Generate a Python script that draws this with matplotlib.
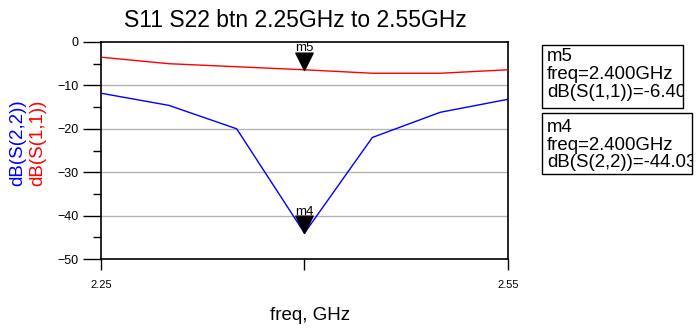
import matplotlib
matplotlib.use("Agg")
import matplotlib.pyplot as plt
from matplotlib.path import Path
from matplotlib.patches import Rectangle
import numpy as np

plt.rcParams['font.family'] = ['Liberation Sans', 'DejaVu Sans']

freq = [2.25, 2.30, 2.35, 2.40, 2.45, 2.50, 2.55]
s11_db = [-3.5, -5.0, -5.7, -6.40, -7.2, -7.2, -6.4]
s22_db = [-11.8, -14.6, -20.0, -44.03, -22.0, -16.2, -13.2]
marker_freq = 2.40
marker_names = ["m5", "m4"]
marker_vals = [-6.40, -44.03]
marker_texts = [["m5", "freq=2.400GHz", "dB(S(1,1))=-6.40"],
                ["m4", "freq=2.400GHz", "dB(S(2,2))=-44.03"]]
yticks_major = [0, -10, -20, -30, -40, -50]
xticks_major = [2.25, 2.40, 2.55]
xtick_labels = ["2.25", "", "2.55"]

W, H = 698, 328
fig = plt.figure(figsize=(W/100, H/100), dpi=100)
ax = fig.add_axes([101/W, 1-259/H, (508-101)/W, (259-42)/H])

ax.plot(freq, s11_db, color='#ff0000', lw=1.0, zorder=3)
ax.plot(freq, s22_db, color='#0000ff', lw=1.0, zorder=3)

ax.set_xlim(2.25, 2.55)
ax.set_ylim(-50, 0)
ax.set_yticks(yticks_major)
ax.set_yticks(np.arange(-45, 0, 10), minor=True)
ax.set_xticks(xticks_major)
ax.set_xticklabels(xtick_labels, fontsize=8)
ax.tick_params(axis='y', which='major', direction='out', length=13, width=1, labelsize=9, pad=3)
ax.tick_params(axis='y', which='minor', direction='out', length=6, width=1)
ax.tick_params(axis='x', which='major', direction='out', length=8, width=1, pad=7)
for g in [-10, -20, -30, -40]:
    ax.axhline(g, color='#b4b4b4', lw=1.0, zorder=1)
for s in ax.spines.values():
    s.set_linewidth(1.2)

# inverted triangle marker with tip at the data point
tri = Path([(-1, 2), (1, 2), (0, 0), (-1, 2)],
           [Path.MOVETO, Path.LINETO, Path.LINETO, Path.CLOSEPOLY])
for name, v in zip(marker_names, marker_vals):
    ax.plot([marker_freq], [v], marker=tri, markersize=25, color='black',
            linestyle='none', zorder=5, clip_on=False)
    ax.annotate(name, (marker_freq, v), xytext=(0, 11), textcoords='offset points',
                ha='center', va='bottom', fontsize=9.5, zorder=6)

fig.text(295/W, 1-27/H, "S11 S22 btn 2.25GHz to 2.55GHz", ha='center', va='baseline',
         fontsize=16.5)
fig.text(310/W, 1-320/H, "freq, GHz", ha='center', va='baseline', fontsize=13.5)
fig.text(18/W, 1-143/H, "dB(S(2,2))", rotation=90, ha='center', va='center',
         color='#0000ff', fontsize=13.5)
fig.text(38/W, 1-143/H, "dB(S(1,1))", rotation=90, ha='center', va='center',
         color='#ff0000', fontsize=13.5)

boxes = [(542, 45, 683, 108), (542, 113, 692, 174)]
baselines = [[61, 79, 97], [132, 150, 167]]
for (x0, y0, x1, y1), lines, bls in zip(boxes, marker_texts, baselines):
    rect = Rectangle((x0/W, 1-y1/H), (x1-x0)/W, (y1-y0)/H, transform=fig.transFigure,
                     fill=False, edgecolor='black', lw=1.0)
    fig.add_artist(rect)
    clip = Rectangle((x0/W, 1-y1/H), (x1-x0)/W, (y1-y0)/H, transform=fig.transFigure,
                     fill=False, lw=0)
    for t, b in zip(lines, bls):
        txt = fig.text(547/W, 1-b/H, t, ha='left', va='baseline', fontsize=13.4)
        txt.set_clip_path(clip)

fig.savefig("out.png", dpi=100)
